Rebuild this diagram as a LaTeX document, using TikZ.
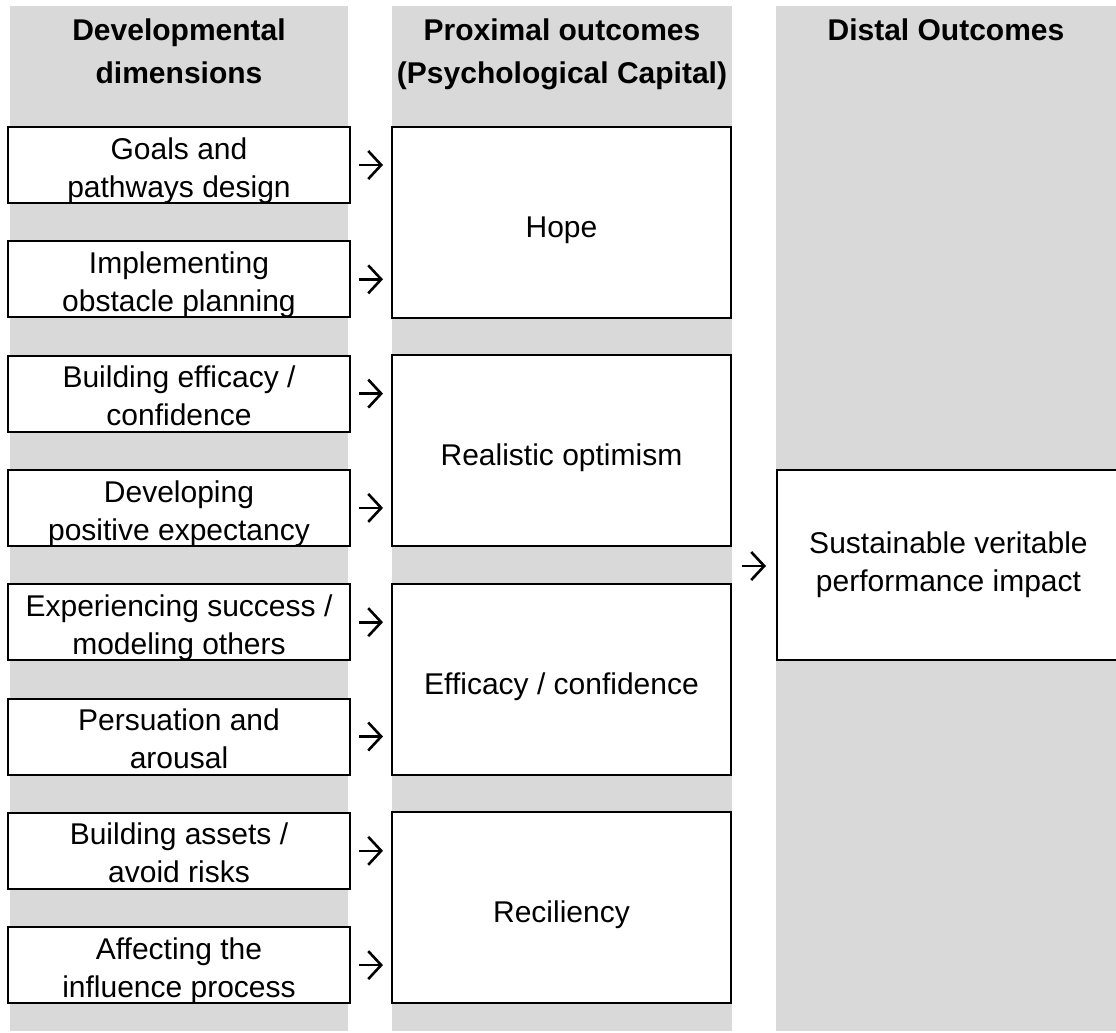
\documentclass[tikz,border=0pt]{standalone}
\usepackage{fontspec}
\setmainfont{Liberation Sans}
\usetikzlibrary{positioning,arrows.meta}
\definecolor{colgray}{HTML}{D9D9D9}

\begin{document}
\begin{tikzpicture}[x=0.5pt,y=-0.5pt,node distance=57.15pt,on grid,
    font=\fontsize{15}{19}\selectfont,
    column/.style={fill=colgray},
    head/.style={anchor=north,inner sep=0pt,align=center,font=\fontsize{15}{21.5}\selectfont\bfseries},
    dim/.style={draw,line width=1pt,fill=white,minimum width=171pt,minimum height=38pt,inner sep=0pt},
    dimtext/.style={anchor=north,yshift=-5.5pt,inner sep=0pt,align=center},
    outc/.style={draw,line width=1pt,fill=white,minimum width=169.5pt,minimum height=95.5pt,align=center,text height=14.5pt,text depth=0pt},
    arr/.style={-{Straight Barb[length=6.5pt,width=14pt]},line width=1.3pt,shorten <=4pt,shorten >=4pt}]
  \useasboundingbox (0,0) rectangle (1116,1033);
  % grey columns
  \fill[column] (10,6) rectangle (348,1031);
  \fill[column] (392,6) rectangle (732,1031);
  \fill[column] (776,6) rectangle (1116,1031);
  \node[head] (h_dim) at (179,18) {Developmental\\dimensions};
  \node[head] (h_prox) at (562,18) {Proximal outcomes\\(Psychological Capital)};
  \node[head] (h_dist) at (946,18) {Distal Outcomes};
  % developmental dimensions
  \node[dim,label={[dimtext]north:Goals and\\pathways design}] (d1) at (179,165) {};
  \node[dim,label={[dimtext]north:Implementing\\obstacle planning}] (d2) [below=of d1] {};
  \node[dim,label={[dimtext]north:Building efficacy /\\confidence}] (d3) [below=of d2] {};
  \node[dim,label={[dimtext]north:Developing\\positive expectancy}] (d4) [below=of d3] {};
  \node[dim,label={[dimtext]north:Experiencing success /\\modeling others}] (d5) [below=of d4] {};
  \node[dim,label={[dimtext]north:Persuation and\\arousal}] (d6) [below=of d5] {};
  \node[dim,label={[dimtext]north:Building assets /\\avoid risks}] (d7) [below=of d6] {};
  \node[dim,label={[dimtext]north:Affecting the\\influence process}] (d8) [below=of d7] {};
  % proximal outcomes
  \node[outc] (hope) at (561.5,222.5) {Hope};
  \node[outc] (optim) at (561.5,450.5) {Realistic optimism};
  \node[outc] (effic) at (561.5,679.5) {Efficacy / confidence};
  \node[outc] (resil) at (561.5,907.5) {Reciliency};
  % distal outcome
  \node[outc,minimum width=171.5pt,minimum height=95pt,text height=,text depth=] (dist) at (948.5,565) {Sustainable veritable\\performance impact};
  \coordinate (c_prox) at (732,566);
  \path[arr]
    (d1) edge (d1 -| hope.west)
    (d2) edge (d2 -| hope.west)
    (d3) edge (d3 -| optim.west)
    (d4) edge (d4 -| optim.west)
    (d5) edge (d5 -| effic.west)
    (d6) edge (d6 -| effic.west)
    (d7) edge (d7 -| resil.west)
    (d8) edge (d8 -| resil.west)
    (c_prox) edge [shorten <=5pt,shorten >=5pt] (c_prox -| dist.west);
\end{tikzpicture}
\end{document}
